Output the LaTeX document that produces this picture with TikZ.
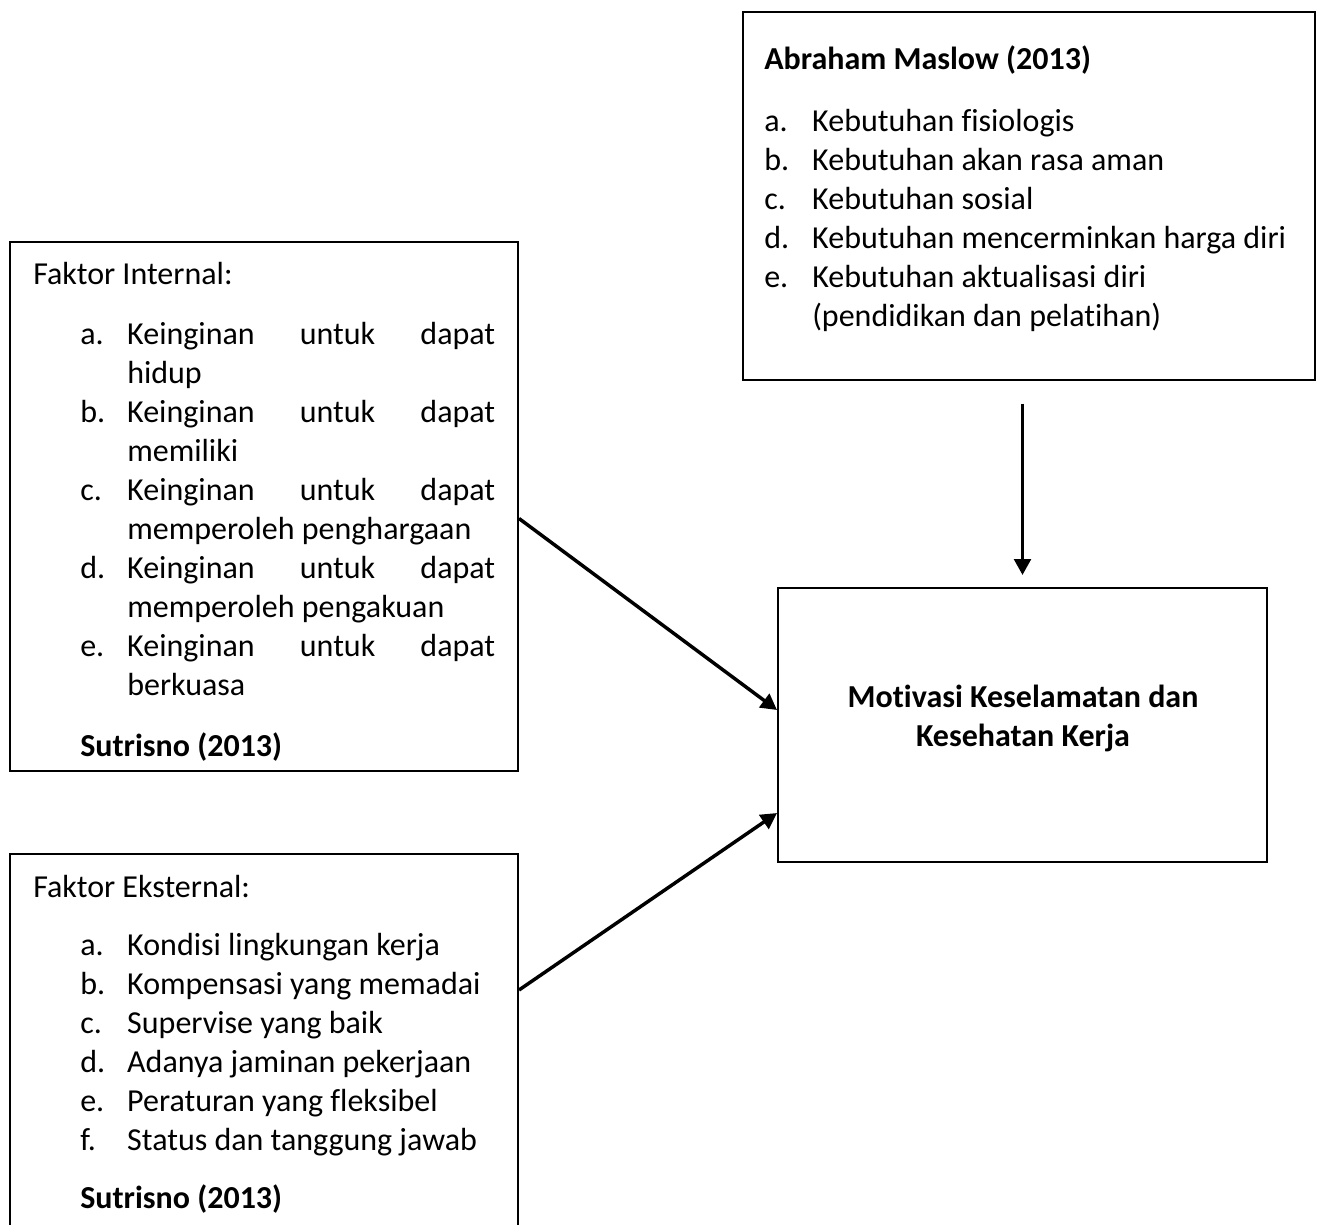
\documentclass[tikz,border=0pt]{standalone}
\usepackage{fontspec}
\setmainfont[Ligatures=NoCommon]{Carlito}
\usepackage{tikz}
\usetikzlibrary{arrows.meta, positioning}

\newcommand{\spreadline}[3]{\hbox to 276pt{#1\hfill #2\hfill #3}}

\begin{document}
\begin{tikzpicture}[x=0.75pt, y=-0.75pt,
        box/.style={draw, line width=1.5pt, inner sep=0pt},
        txt/.style={anchor=base west, inner sep=0pt, font=\fontsize{24pt}{29.25pt}\selectfont},
        arr/.style={line width=2.6pt, -{Triangle[length=12pt, width=12.5pt]}}]
        \clip (0,0) rectangle (1323,1224);

        % the four boxes
        \node[box, minimum width=429pt, minimum height=276pt] (maslow) at (1028.5, 196) {};
        \node[box, minimum width=381pt, minimum height=396.75pt] (internal) at (264, 506.5) {};
        \node[box, minimum width=381pt, minimum height=289.5pt] (external) at (264, 1047) {};
        \node[box, minimum width=366.75pt, minimum height=205.5pt] (motivasi) at (1022.5, 725) {};

        % texts
        \node[txt] (maslowtext) at (764, 69) {\begin{tabular}[t]{@{}p{36pt}@{}l@{}}
            \multicolumn{2}{@{}l@{}}{\textbf{Abraham Maslow (2013)}}\\[17.25pt]
            a. & Kebutuhan fisiologis\\
            b. & Kebutuhan akan rasa aman\\
            c. & Kebutuhan sosial\\
            d. & Kebutuhan mencerminkan harga diri\\
            e. & Kebutuhan aktualisasi diri\\
               & (pendidikan dan pelatihan)
        \end{tabular}};
        \node[txt] (internaltext) at (33, 284) {\begin{tabular}[t]{@{\hspace{35.25pt}}p{35.25pt}@{}l@{}}
            \multicolumn{2}{@{}l@{}}{Faktor Internal:}\\[15.75pt]
            a. & \spreadline{Keinginan}{untuk}{dapat}\\
               & hidup\\
            b. & \spreadline{Keinginan}{untuk}{dapat}\\
               & memiliki\\
            c. & \spreadline{Keinginan}{untuk}{dapat}\\
               & memperoleh penghargaan\\
            d. & \spreadline{Keinginan}{untuk}{dapat}\\
               & memperoleh pengakuan\\
            e. & \spreadline{Keinginan}{untuk}{dapat}\\
               & berkuasa\\[16.5pt]
            \multicolumn{2}{@{\hspace{35.25pt}}l@{}}{\textbf{Sutrisno (2013)}}
        \end{tabular}};
        \node[txt] (externaltext) at (33, 897) {\begin{tabular}[t]{@{\hspace{35.25pt}}p{35.25pt}@{}l@{}}
            \multicolumn{2}{@{}l@{}}{Faktor Eksternal:}\\[14.25pt]
            a. & Kondisi lingkungan kerja\\
            b. & Kompensasi yang memadai\\
            c. & Supervise yang baik\\
            d. & Adanya jaminan pekerjaan\\
            e. & Peraturan yang fleksibel\\
            f. & Status dan tanggung jawab\\[14.25pt]
            \multicolumn{2}{@{\hspace{35.25pt}}l@{}}{\textbf{Sutrisno (2013)}}
        \end{tabular}};
        \node[txt, anchor=base] (motivasitext) at (1023, 707) {\begin{tabular}[t]{@{}c@{}}
            \textbf{Motivasi Keselamatan dan}\\
            \textbf{Kesehatan Kerja}
        \end{tabular}};

        % arrows
        \draw[arr, shorten <=17pt, shorten >=9pt] (maslow.south -| motivasi.north) to (motivasi.north);
        \draw[arr] ([yshift=-9pt]internal.east) to ([yshift=11.25pt]motivasi.west);
        \draw[arr] ([yshift=42.75pt]external.east) to ([yshift=-66pt]motivasi.west);
    \end{tikzpicture}
\end{document}
